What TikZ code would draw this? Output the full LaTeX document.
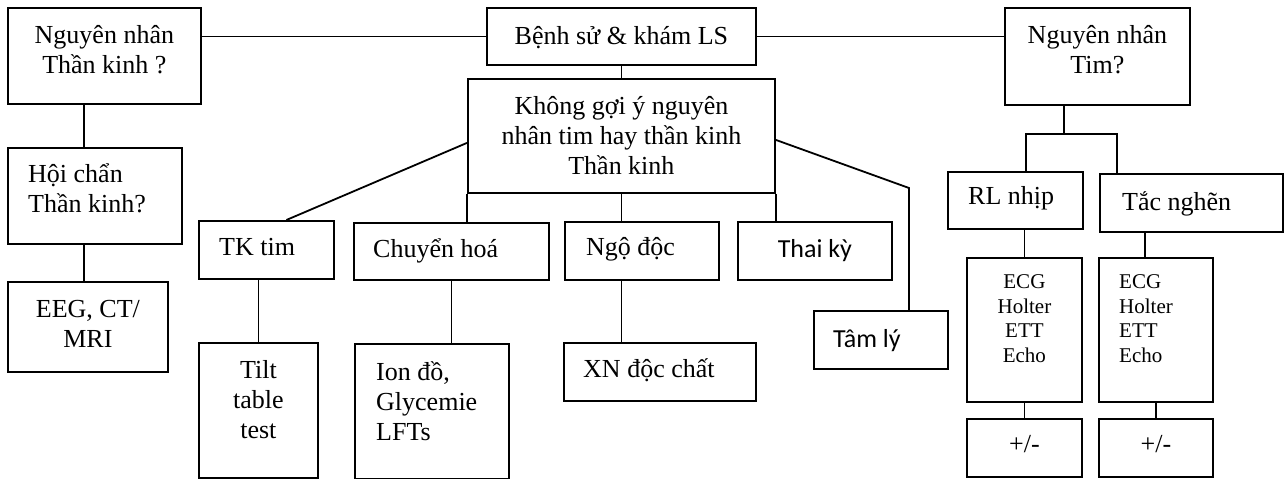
\documentclass[tikz,border=0pt]{standalone}
\usepackage{fontspec}
\setmainfont{Liberation Serif}
\newfontfamily\calfont{Carlito}

\tikzset{
  box/.style={draw, line width=1.8pt, inner sep=0pt, anchor=north west},
  link/.style={draw, line width=1.8pt},
  txt/.style={inner sep=0pt, align=center, font=\fontsize{26}{30}\selectfont},
  ltxt/.style={txt, align=left, anchor=base west},
  smalltxt/.style={inner sep=0pt, align=center, font=\fontsize{21}{24.5}\selectfont},
}

\begin{document}
\begin{tikzpicture}[x=1pt, y=-1pt]
  \useasboundingbox (0,0) rectangle (1285,479);
  % top row (label base = last line)
  \node[box, minimum width=193pt, minimum height=96pt, label={[txt, anchor=base, yshift=-66pt]north:{Nguyên nhân\\Thần kinh ?}}] (nnTK) at (7,7) {};
  \node[box, minimum width=269pt, minimum height=57pt, label={[txt, anchor=base, yshift=-37pt]north:{Bệnh sử \& khám LS}}] (benhsu) at (486,7) {};
  \node[box, minimum width=185pt, minimum height=97pt, label={[txt, anchor=base, yshift=-66pt]north:{Nguyên nhân\\Tim?}}] (nnTim) at (1004,7) {};
  \node[box, minimum width=307pt, minimum height=114pt, label={[txt, anchor=base, yshift=-96pt]north:{Không gợi ý nguyên\\nhân tim hay thần kinh\\Thần kinh}}] (khong) at (467,78) {};
  % left column
  \node[box, minimum width=174pt, minimum height=96pt, label={[ltxt, xshift=21pt, yshift=-65pt]north west:{Hội chẩn\\Thần kinh?}}] (hoichan) at (7,147) {};
  \node[box, minimum width=160pt, minimum height=90pt, label={[txt, anchor=base, yshift=-66pt]north:{EEG, CT/\\MRI}}] (eeg) at (7,281) {};
  % middle row
  \node[box, minimum width=135pt, minimum height=58pt, label={[ltxt, xshift=21pt, yshift=-35pt]north west:{TK tim}}] (tktim) at (198,220) {};
  \node[box, minimum width=195pt, minimum height=57pt, label={[ltxt, xshift=20pt, yshift=-35pt]north west:{Chuyển hoá}}] (chuyen) at (353,222) {};
  \node[box, minimum width=154pt, minimum height=58pt, label={[ltxt, xshift=22pt, yshift=-34pt]north west:{Ngộ độc}}] (ngodoc) at (564,221) {};
  \node[box, minimum width=154pt, minimum height=58pt, label={[txt, font=\calfont\fontsize{26}{30}\selectfont, anchor=base, yshift=-36pt]north:{Thai kỳ}}] (thaiky) at (737,221) {};
  \node[box, minimum width=134pt, minimum height=58pt, label={[ltxt, font=\calfont\fontsize{26}{30}\selectfont, xshift=20pt, yshift=-37pt]north west:{Tâm lý}}] (tamly) at (813,310) {};
  % tests
  \node[box, minimum width=119pt, minimum height=135pt, label={[txt, anchor=base, yshift=-96pt]north:{Tilt\\table\\test}}] (tilt) at (198,342) {};
  \node[box, minimum width=154pt, minimum height=135pt, label={[ltxt, xshift=22pt, yshift=-97pt]north west:{Ion đồ,\\Glycemie\\LFTs}}] (ion) at (354,343) {};
  \node[box, minimum width=192pt, minimum height=58pt, label={[ltxt, xshift=20pt, yshift=-35pt]north west:{XN độc chất}}] (xn) at (563,342) {};
  % right column
  \node[box, minimum width=135pt, minimum height=57pt, label={[ltxt, xshift=21pt, yshift=-33pt]north west:{RL nhịp}}] (rl) at (947,171) {};
  \node[box, minimum width=183pt, minimum height=58pt, label={[ltxt, xshift=23pt, yshift=-37pt]north west:{Tắc nghẽn}}] (tac) at (1099,173) {};
  \node[box, minimum width=115pt, minimum height=144pt, label={[smalltxt, anchor=base, yshift=-105pt]north:{ECG\\Holter\\ETT\\Echo}}] (ecg1) at (966,257) {};
  \node[box, minimum width=114pt, minimum height=144pt, label={[smalltxt, align=left, anchor=base west, xshift=21pt, yshift=-105pt]north west:{ECG\\Holter\\ETT\\Echo}}] (ecg2) at (1098,257) {};
  \node[box, minimum width=115pt, minimum height=58pt, label={[txt, anchor=base, yshift=-34pt]north:{+/-}}] (pm1) at (966,418) {};
  \node[box, minimum width=114pt, minimum height=58pt, label={[txt, anchor=base, yshift=-34pt]north:{+/-}}] (pm2) at (1098,418) {};

  % connectors
  \coordinate (hcTop) at ([xshift=-11pt]hoichan.north);
  \coordinate (tlBend) at (909,188);
  \coordinate (forkM) at (1064,134);
  \coordinate (forkL) at (1026,134);
  \coordinate (forkR) at (1117,134);
  \coordinate (tacDrop) at ([xshift=-11pt]ecg2.north);
  \draw[link] (benhsu.west) -- (benhsu.west -| nnTK.east);
  \draw[link] (benhsu.east) -- (benhsu.east -| nnTim.west);
  \draw[link] (benhsu.south) -- (khong.north);
  \draw[link] (hcTop) -- (hcTop |- nnTK.south);
  \draw[link] (hcTop |- hoichan.south) -- (hcTop |- eeg.north);
  \draw[link] ([yshift=-7pt]khong.west) -- ([xshift=20pt]tktim.north);
  \draw[link] ([yshift=-4pt]khong.east) -- (tlBend) -- (tlBend |- tamly.north);
  \draw[link] (khong.south west) -- (khong.south west |- chuyen.north);
  \draw[link] (khong.south) -- (khong.south |- ngodoc.north);
  \draw[link] (khong.south east) -- (khong.south east |- thaiky.north);
  \draw[link] (tilt.north) -- (tilt.north |- tktim.south);
  \draw[link] (chuyen.south) -- (chuyen.south |- ion.north);
  \draw[link] (khong.south |- ngodoc.south) -- (khong.south |- xn.north);
  \draw[link] (forkM |- nnTim.south) -- (forkM);
  \draw[link] (forkL |- rl.north) |- (forkR) -- (forkR |- tac.north);
  \draw[link] (ecg1.north) -- (ecg1.north |- rl.south);
  \draw[link] (tacDrop) -- (tacDrop |- tac.south);
  \draw[link] (ecg1.south) -- (pm1.north);
  \draw[link] (ecg2.south) -- (pm2.north);
\end{tikzpicture}
\end{document}
